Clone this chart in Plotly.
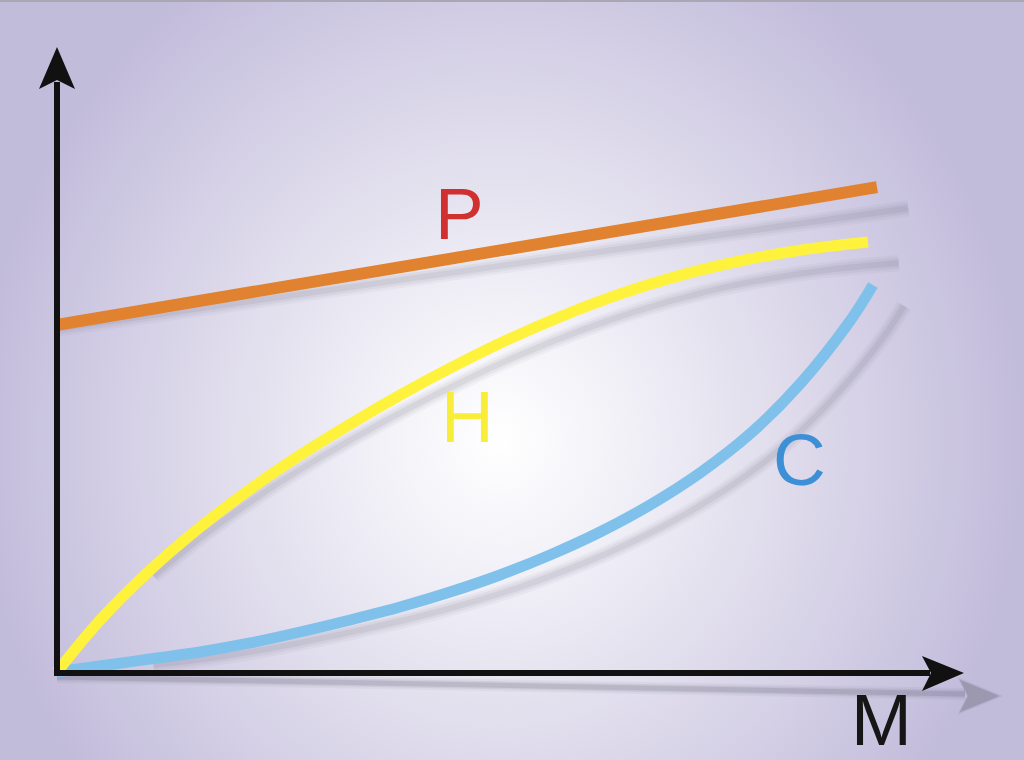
import plotly.graph_objects as go

# ---- data (M on x, value on y; arbitrary units 0..100) ----
m_p = [0, 100]
p_vals = [56.0, 78.2]

m_h = [0, 5.24, 11.34, 17.44, 23.54, 29.63, 35.73, 41.83, 47.93, 54.02,
       61.34, 68.66, 75.98, 83.29, 90.61, 98.90]
h_vals = [0, 8.35, 16.42, 23.35, 29.48, 34.97, 39.97, 44.65, 49.0, 53.03,
          57.29, 60.97, 63.97, 66.29, 68.03, 69.35]

m_c = [0, 5.24, 11.34, 17.44, 23.54, 29.63, 35.73, 41.83, 47.93, 54.02,
       60.12, 66.22, 72.32, 78.41, 84.51, 90.61, 96.71, 99.51]
c_vals = [0, 0.97, 2.10, 3.23, 4.68, 6.45, 8.39, 10.48, 12.90, 15.65,
          18.87, 22.58, 26.94, 32.10, 38.39, 46.45, 56.61, 62.42]

labels = ["P", "H", "C", "M"]

# ---- pixel <-> data helpers (layout geometry) ----
W, H = 1024, 760
X0, XS = 57, 8.2
Y0, YS = 672, 6.2
def dx(px): return (px - X0) / XS
def dy(py): return (Y0 - py) / YS

fig = go.Figure()

# background radial gradient
bx = [dx(-24), dx(1024), dx(1024), dx(-24), dx(-24)]
by = [dy(-120), dy(-120), dy(1000), dy(1000), dy(-120)]
fig.add_trace(go.Scatter(
    x=bx, y=by, mode="lines", fill="toself", line=dict(width=0),
    fillgradient=dict(type="radial",
                      colorscale=[[0, "#ffffff"], [0.25, "#f1f0f7"], [0.6, "#dcd8ea"], [1, "#c2bcdb"]]),
    hoverinfo="skip", showlegend=False))

def shadow(xs, ys):
    sx = [x + 3.8 * x / 100 for x in xs]
    sy = [y - (0.6 + 2.8 * x / 100) for x, y in zip(xs, ys)]
    return sx, sy

# x-axis shadow
for w, a in [(12, 0.06), (8, 0.10), (5, 0.16)]:
    fig.add_trace(go.Scatter(x=[0, dx(965)], y=[dy(677), dy(694)], mode="lines",
                             line=dict(color=f"rgba(90,90,105,{a})", width=w),
                             hoverinfo="skip", showlegend=False))

# curve shadows
for xs, ys, k in [(m_p, p_vals, 0), (m_h, h_vals, 2), (m_c, c_vals, 2)]:
    sx, sy = shadow(xs[k:], ys[k:])
    for w, a in [(16, 0.05), (11, 0.07), (6, 0.10)]:
        fig.add_trace(go.Scatter(x=sx, y=sy, mode="lines", line_shape="spline",
                                 line=dict(color=f"rgba(100,100,120,{a})", width=w),
                                 hoverinfo="skip", showlegend=False))

# curves
fig.add_trace(go.Scatter(x=m_p, y=p_vals, mode="lines",
                         line=dict(color="#e0822f", width=12), showlegend=False))
fig.add_trace(go.Scatter(x=m_c, y=c_vals, mode="lines", line_shape="spline",
                         line=dict(color="#7fc1eb", width=11), showlegend=False))
fig.add_trace(go.Scatter(x=m_h, y=h_vals, mode="lines", line_shape="spline",
                         line=dict(color="#fff23c", width=11), showlegend=False))

shapes = []
# axes lines
shapes.append(dict(type="line", x0=dx(57), x1=dx(57), y0=dy(675), y1=dy(82),
                   line=dict(color="#111111", width=6), layer="above"))
shapes.append(dict(type="line", x0=dx(54), x1=dx(930), y0=dy(673), y1=dy(673),
                   line=dict(color="#111111", width=6), layer="above"))

def path(pts):
    return "M " + " L ".join(f"{dx(px)},{dy(py)}" for px, py in pts) + " Z"

# x arrowhead shadow (blurred look via stacked translucent copies)
for sc, a in [(1.18, 0.08), (1.08, 0.12), (1.0, 0.22)]:
    cx, cy = 975, 696
    pts = [(999, 696), (960, 680), (968, 696), (960, 712)]
    pts = [(cx + (px - cx) * sc, cy + (py - cy) * sc) for px, py in pts]
    shapes.append(dict(type="path", path=path(pts),
                       fillcolor=f"rgba(90,90,105,{a})", line=dict(width=0), layer="above"))
# y arrowhead
shapes.append(dict(type="path", path=path([(57, 47), (75, 89), (57, 80), (39, 89)]),
                   fillcolor="#111111", line=dict(width=0), layer="above"))
# x arrowhead
shapes.append(dict(type="path", path=path([(964, 673), (922, 656), (931, 673), (922, 691)]),
                   fillcolor="#111111", line=dict(width=0), layer="above"))
# thin top border
shapes.append(dict(type="rect", xref="paper", yref="paper", x0=0, x1=1, y0=1 - 2 / H, y1=1,
                   fillcolor="#a9a7b3", line=dict(width=0), layer="above"))

font = "Liberation Sans, Arial, sans-serif"
ann = []
pos = [(459, 213, "#d0302f"), (467, 416, "#f8ee3a"), (799, 459, "#3d8fd6"), (881, 719, "#161616")]
for lab, (px, py, col) in zip(labels, pos):
    ann.append(dict(x=dx(px), y=dy(py), text=lab, showarrow=False,
                    font=dict(family=font, size=73, color=col),
                    xanchor="center", yanchor="middle"))

fig.update_layout(
    width=W, height=H, autosize=False,
    margin=dict(l=0, r=0, t=0, b=0, pad=0),
    paper_bgcolor="#c8c2de", plot_bgcolor="#c8c2de",
    xaxis=dict(range=[dx(0), dx(W)], visible=False, fixedrange=True),
    yaxis=dict(range=[dy(H), dy(0)], visible=False, fixedrange=True),
    shapes=shapes, annotations=ann, showlegend=False,
)

fig.write_html("out.html", config={"displayModeBar": False},
               post_script="document.body.style.margin='0';document.body.style.overflow='hidden';")
